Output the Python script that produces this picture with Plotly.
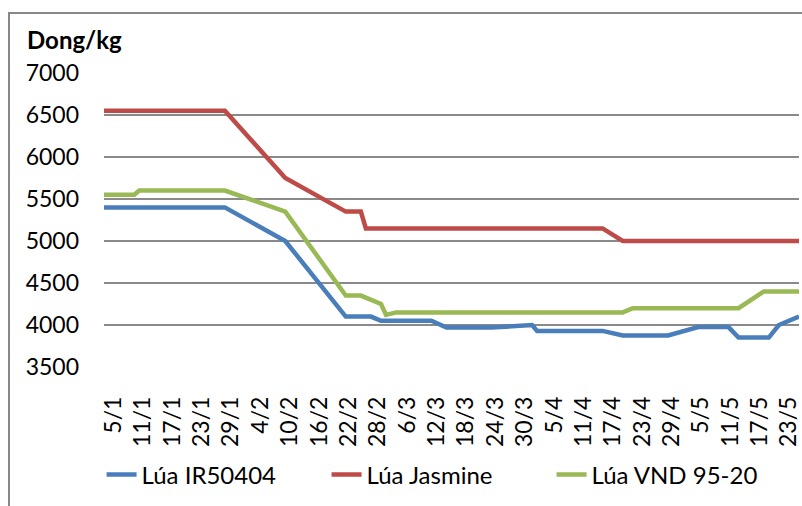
import plotly.graph_objects as go
import datetime as dt

# ---- data ----
ir_dates = ["2010-01-05", "2010-01-29", "2010-02-10", "2010-02-22", "2010-02-27", "2010-03-01",
            "2010-03-11", "2010-03-14", "2010-03-23", "2010-03-31", "2010-04-01", "2010-04-14",
            "2010-04-18", "2010-04-27", "2010-05-03", "2010-05-09", "2010-05-11", "2010-05-17",
            "2010-05-19", "2010-05-23"]
ir_values = [5400, 5400, 5000, 4100, 4100, 4050,
             4050, 3970, 3970, 4000, 3930, 3930,
             3875, 3875, 3975, 3975, 3850, 3850,
             4000, 4100]

jas_dates = ["2010-01-05", "2010-01-29", "2010-02-10", "2010-02-22", "2010-02-25", "2010-02-26",
             "2010-04-14", "2010-04-18", "2010-05-23"]
jas_values = [6550, 6550, 5750, 5350, 5350, 5150,
              5150, 5000, 5000]

vnd_dates = ["2010-01-05", "2010-01-11", "2010-01-12", "2010-01-29", "2010-02-10", "2010-02-22",
             "2010-02-25", "2010-02-27", "2010-03-01", "2010-03-02", "2010-03-04", "2010-04-18",
             "2010-04-20", "2010-05-11", "2010-05-16", "2010-05-23"]
vnd_values = [5550, 5550, 5600, 5600, 5350, 4350,
              4350, 4300, 4250, 4120, 4150, 4150,
              4200, 4200, 4400, 4400]

series_names = ["Lúa IR50404", "Lúa Jasmine", "Lúa VND 95-20"]
series_colors = ["#4A7EBB", "#BE4B48", "#98B954"]

tick_start = dt.datetime(2010, 1, 5)
tick_dates = [tick_start + dt.timedelta(days=6 * i) for i in range(24)]
tick_text = [f"{d.day}/{d.month}" for d in tick_dates]

y_ticks = [3500, 4000, 4500, 5000, 5500, 6000, 6500, 7000]

FONT = "Lato"

# label axis: same dates, slightly tighter spacing like the original category labels
lab_start = tick_start - dt.timedelta(days=1.94)
lab_end = lab_start + dt.timedelta(days=141.98)

fig = go.Figure()
for name, color, xs, ys in zip(series_names, series_colors,
                               [ir_dates, jas_dates, vnd_dates],
                               [ir_values, jas_values, vnd_values]):
    fig.add_trace(go.Scatter(x=xs, y=ys, mode="lines", name=name,
                             line=dict(color=color, width=4.5)))
fig.add_trace(go.Scatter(x=[], y=[], xaxis="x2", showlegend=False, hoverinfo="skip"))

fig.update_layout(
    width=802, height=506,
    margin=dict(l=104, r=3, t=73, b=139, autoexpand=False),
    paper_bgcolor="white", plot_bgcolor="white",
    font=dict(family=FONT, size=23, color="#000000"),
    showlegend=True,
    legend=dict(orientation="h", x=-0.0035, xanchor="left", y=-0.367, yanchor="middle",
                font=dict(family=FONT, size=24, color="#000000"),
                entrywidth=180, bgcolor="rgba(0,0,0,0)", borderwidth=0,
                tracegroupgap=0),
    xaxis=dict(type="date", range=["2010-01-05", "2010-05-23"],
               showticklabels=False, showgrid=False, zeroline=False, showline=False,
               ticks="", automargin=False),
    xaxis2=dict(type="date", overlaying="x", anchor="y", side="bottom",
                range=[lab_start.isoformat(), lab_end.isoformat()],
                tickvals=[d.isoformat() for d in tick_dates], ticktext=tick_text,
                tickangle=-90, showgrid=False, zeroline=False, showline=False,
                ticks="", ticklabelstandoff=24, ticklabelshift=0,
                ticklabeloverflow="allow", automargin=False,
                tickfont=dict(family=FONT, size=23, color="#000000")),
    yaxis=dict(range=[3500, 7000], tickvals=y_ticks,
               showgrid=True, gridcolor="#8a8a8a", gridwidth=1.5,
               zeroline=False, showline=False, ticks="", ticklabelstandoff=24,
               automargin=False,
               tickfont=dict(family=FONT, size=23, color="#000000")),
)

fig.add_annotation(text="<b>Dong/kg</b>", xref="paper", yref="paper",
                   x=(25 - 104) / 695, y=1 + (73 - 39) / 294,
                   xanchor="left", yanchor="middle", showarrow=False,
                   font=dict(family=FONT, size=24, color="#000000"))

fig.add_shape(type="rect", xref="paper", yref="paper",
              x0=(9 - 104) / 695, x1=1.2, y0=-0.8, y1=1 + (73 - 13) / 294,
              line=dict(color="#888888", width=2), fillcolor="rgba(0,0,0,0)", layer="below")

fig.write_html("out.html", config={"displayModeBar": False},
               post_script="document.body.style.margin='0';document.body.style.padding='0';")
